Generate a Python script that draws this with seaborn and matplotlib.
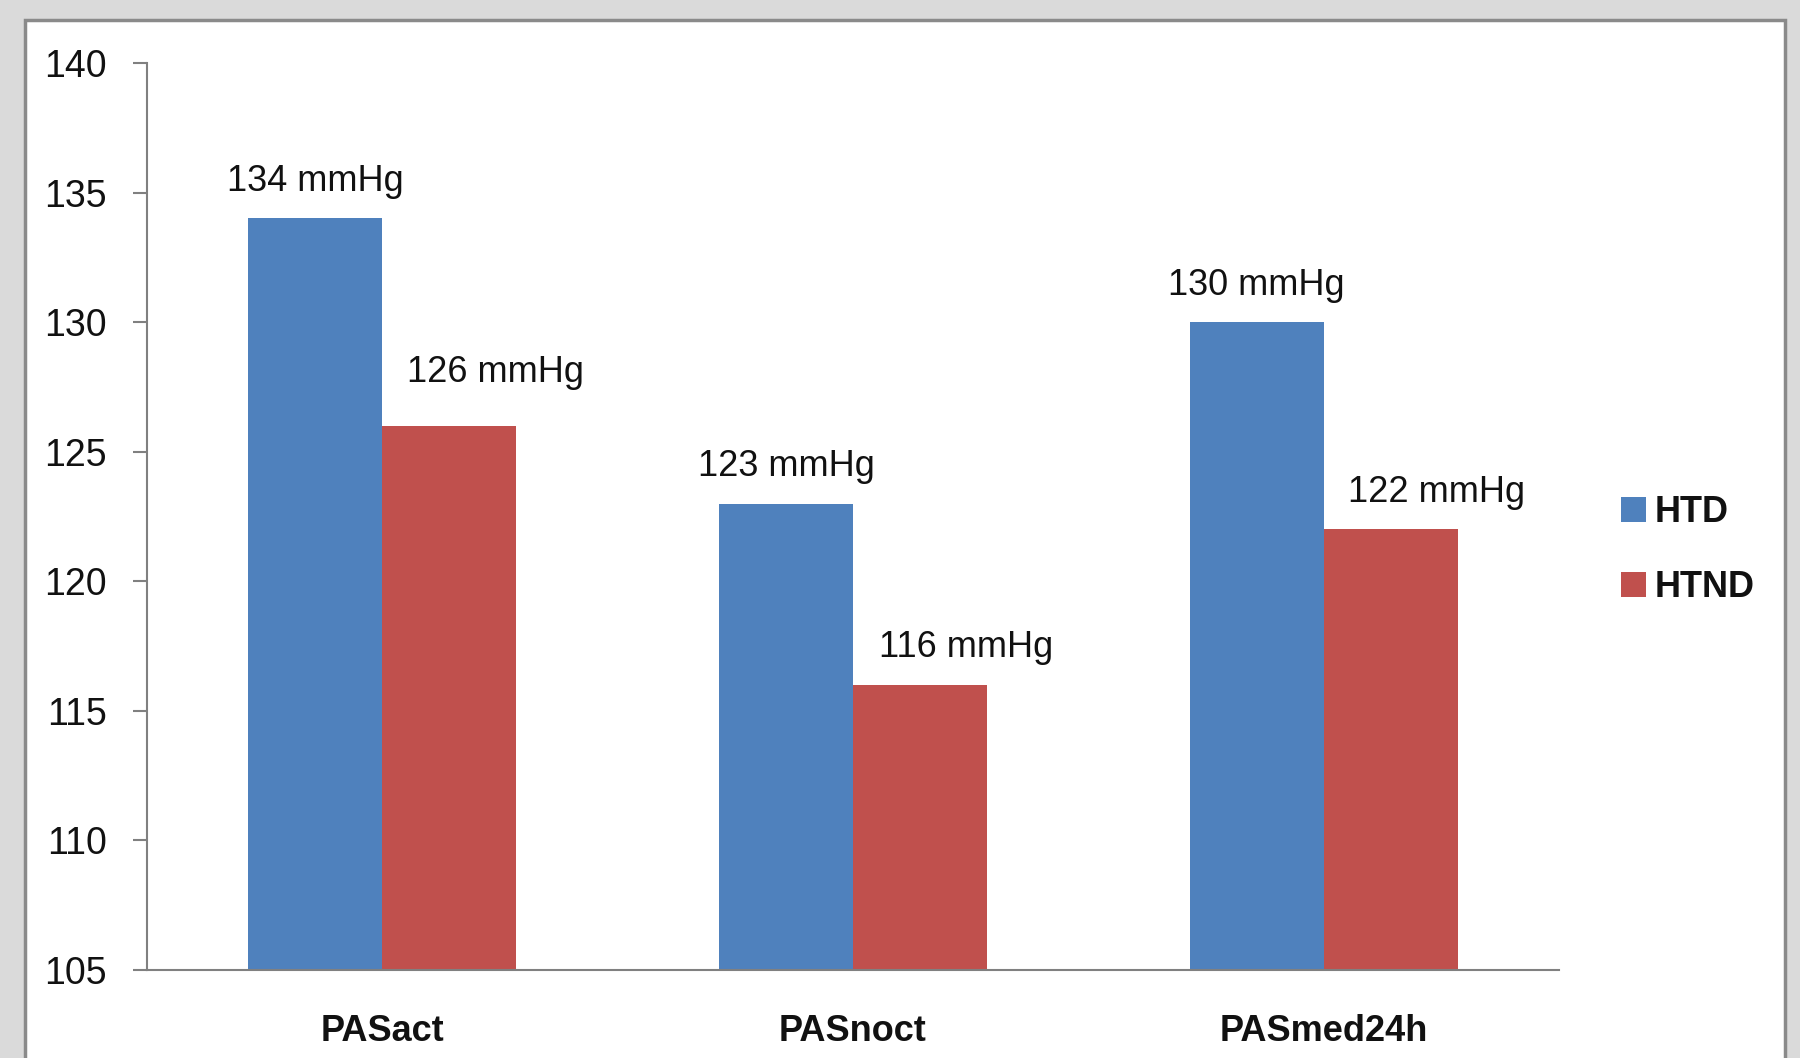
import matplotlib
matplotlib.use("Agg")
import matplotlib.pyplot as plt
import seaborn as sns
import pandas as pd
from matplotlib.patches import Rectangle, Patch
from matplotlib import font_manager

categories = ["PASact", "PASnoct", "PASmed24h"]
htd_values = [134, 123, 130]
htnd_values = [126, 116, 122]
series_names = ["HTD", "HTND"]
y_ticks = [105, 110, 115, 120, 125, 130, 135, 140]

df = pd.DataFrame({
    "cat": categories * 2,
    "val": htd_values + htnd_values,
    "grp": [series_names[0]] * 3 + [series_names[1]] * 3,
})

sns.set_theme(style="white")
names = {f.name for f in font_manager.fontManager.ttflist}
fam = "Liberation Sans Narrow" if "Liberation Sans Narrow" in names else "Liberation Sans"
plt.rcParams["font.family"] = [fam, "DejaVu Sans"]

fig = plt.figure(figsize=(18, 10.58), dpi=100)
fig.patch.set_facecolor("#dadada")
# white panel
panel = Rectangle((25 / 1800, -0.05), (1785 - 25) / 1800, 1 - 20 / 1058 + 0.05,
                  transform=fig.transFigure, facecolor="white",
                  edgecolor="#8a8a8a", linewidth=2.5, zorder=-5)
fig.patches.append(panel)

ax = fig.add_axes([147 / 1800, 1 - 970 / 1058, (1559 - 147) / 1800, (970 - 63) / 1058])
ax.set_facecolor("none")
colors = ["#4F81BD", "#C0504D"]
sns.barplot(data=df, x="cat", y="val", hue="grp", palette=colors, width=0.57,
            saturation=1, ax=ax, legend=False, linewidth=0, edgecolor="none")

ax.set_ylim(105, 140)
ax.set_xlim(-0.5, 2.5)
ax.set_yticks(y_ticks)
ax.set_yticklabels([str(t) for t in y_ticks], fontsize=27, color="#111111")
ax.set_xticks(range(len(categories)))
ax.set_xticklabels(categories, fontsize=26, fontweight="bold", color="#111111")
ax.tick_params(axis="x", which="major", length=0, pad=32)
ax.set_xticks([-0.5, 0.5, 1.5, 2.5], minor=True)
ax.tick_params(axis="x", which="minor", length=14, width=1.5, color="#808080", direction="out")
ax.tick_params(axis="y", length=10, width=1.5, color="#808080", direction="out", pad=19, left=True)
ax.set_xlabel("")
ax.set_ylabel("")
for s in ["top", "right"]:
    ax.spines[s].set_visible(False)
for s in ["left", "bottom"]:
    ax.spines[s].set_color("#808080")
    ax.spines[s].set_linewidth(1.5)

# label styling: HTND labels sit shifted right of their bars (as in the source chart)
label_dx = [0, 33]          # points, per series
label_pad = 14              # points above bar top
extra_pad = {(1, 0): 12}    # (series, category) -> extra points
for si, cont in enumerate(ax.containers):
    anns = ax.bar_label(cont, labels=[f"{int(v)} mmHg" for v in cont.datavalues],
                        padding=label_pad, fontsize=26, color="#111111")
    for ci, a in enumerate(anns):
        a.xyann = (label_dx[si], label_pad + extra_pad.get((si, ci), 0))

handles = [Patch(facecolor=c, edgecolor="none") for c in colors]
leg = fig.legend(handles, series_names, loc="center left",
                 bbox_to_anchor=(1588 / 1800, 1 - 550 / 1058), frameon=False,
                 prop={"size": 26, "weight": "bold"}, handlelength=0.7, handleheight=0.7,
                 handletextpad=0.25, labelspacing=1.1)
for t in leg.get_texts():
    t.set_color("#111111")

fig.savefig("out.png", dpi=100, facecolor=fig.get_facecolor())
